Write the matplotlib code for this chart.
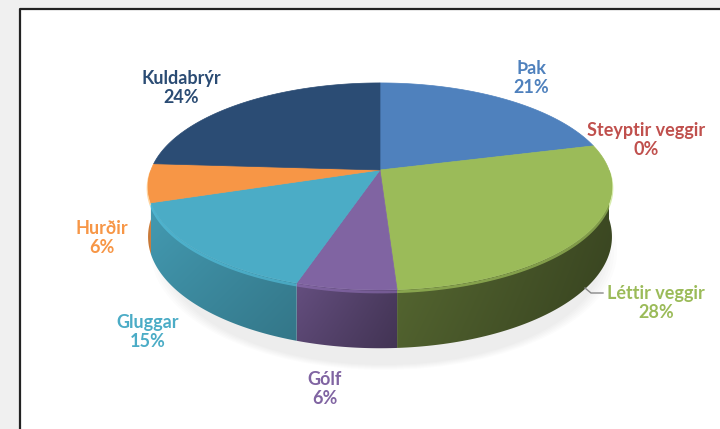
"""Pseudo-3D pie of heat loss shares, drawn in pixel space."""

import numpy as np
import matplotlib
matplotlib.use("Agg")
import matplotlib.pyplot as plt
from matplotlib.colors import to_rgb
from matplotlib.patches import Polygon, Rectangle, Ellipse

labels = ["Þak", "Steyptir veggir", "Léttir veggir", "Gólf", "Gluggar", "Hurðir", "Kuldabrýr"]
shares = [21, 0, 28, 6, 15, 6, 24]
colors = ["#4f81bd", "#c0504d", "#9bbb59", "#8064a2", "#4bacc6", "#f79646", "#2b4c74"]
label_pos = [(531, 78), (646, 140), (656, 303), (325, 389), (148, 332), (102, 238), (181, 88)]

# tilted disc with a little perspective (pixels)
cx, cy = 380, 170
A, B, k = 229, 100.9, 0.159
D = 49


def proj(theta, z=0.0):
    # theta in degrees, clockwise from 12 o'clock; z=1 is the bottom face
    t = np.radians(theta)
    u, v = np.sin(t), np.cos(t)
    w = 1 + k * v
    return cx + A * u / w, cy - B * v / w + z * D / w


def shade(x):
    return np.interp(x, [148, 300, 400, 612], [0.9, 0.78, 0.58, 0.4])


fig = plt.figure(figsize=(7.2, 4.29), dpi=100, facecolor="#f0f0f0")
ax = fig.add_axes([0, 0, 1, 1])
ax.axis("off")

ax.add_patch(Rectangle((20, 9), 720, 430, facecolor="white", edgecolor="none", zorder=0))
ax.plot([20, 20, 720], [429, 9, 9], color="#222222", lw=1.6, zorder=1)

# faint shadow under the pie
for j in range(6):
    ax.add_patch(Ellipse((cx + 4, 252 + j), 2 * A + 8 - 6 * j, 2 * 118 - 4 * j,
                         facecolor="#000000", alpha=0.01, edgecolor="none", zorder=1))

bounds = np.concatenate([[0], np.cumsum(shares)]) * 3.6

# side walls, near half only
for i, col in enumerate(colors):
    a0, a1 = max(bounds[i], 90), min(bounds[i + 1], 270)
    if a1 <= a0:
        continue
    base = np.array(to_rgb(col))
    tt = np.linspace(a0, a1, 80)
    xt, yt = proj(tt)
    xb, yb = proj(tt, 1)
    pts = np.column_stack([np.concatenate([xt, xb[::-1]]), np.concatenate([yt, yb[::-1]])])
    wall = Polygon(pts, closed=True, facecolor="none", edgecolor="none", zorder=2)
    ax.add_patch(wall)
    x0, x1 = pts[:, 0].min() - 1, pts[:, 0].max() + 1
    y0, y1 = pts[:, 1].min() - 1, pts[:, 1].max() + 1
    xs = np.linspace(x0, x1, 200)
    rows = np.linspace(0, 1, 60)
    f = shade(xs)[None, :] * (1.0 - 0.12 * rows[:, None])
    img = np.clip(base[None, None, :] * f[:, :, None], 0, 1)
    im = ax.imshow(img, extent=(x0, x1, y1, y0), origin="upper", aspect="auto",
                   interpolation="bilinear", zorder=2)
    im.set_clip_path(wall)
    # bevel highlight along the top edge
    ax.plot(xt, yt + 2, color=tuple(np.minimum(base * 1.18, 1)), lw=2.0, alpha=0.55,
            solid_capstyle="butt", zorder=2.5)

# top faces
for i, col in enumerate(colors):
    if shares[i] == 0:
        continue
    tt = np.linspace(bounds[i], bounds[i + 1], 120)
    x, y = proj(tt)
    pts = np.column_stack([np.concatenate([[cx], x]), np.concatenate([[cy], y])])
    ax.add_patch(Polygon(pts, closed=True, facecolor=col, edgecolor=col, lw=0.5, zorder=3))

# leader line for Léttir veggir
ax.plot([585, 591, 603], [288, 293, 293], color="#888888", lw=1, zorder=3)

for name, val, col, (lx, ly) in zip(labels, shares, colors, label_pos):
    ax.text(lx, ly, f"{name}\n{val}%", color=col, ha="center", va="center",
            fontsize=13, fontweight="bold", family="Lato", linespacing=1.2, zorder=4)

ax.set_xlim(0, 720)
ax.set_ylim(429, 0)
fig.savefig("out.png", dpi=100, facecolor=fig.get_facecolor())
